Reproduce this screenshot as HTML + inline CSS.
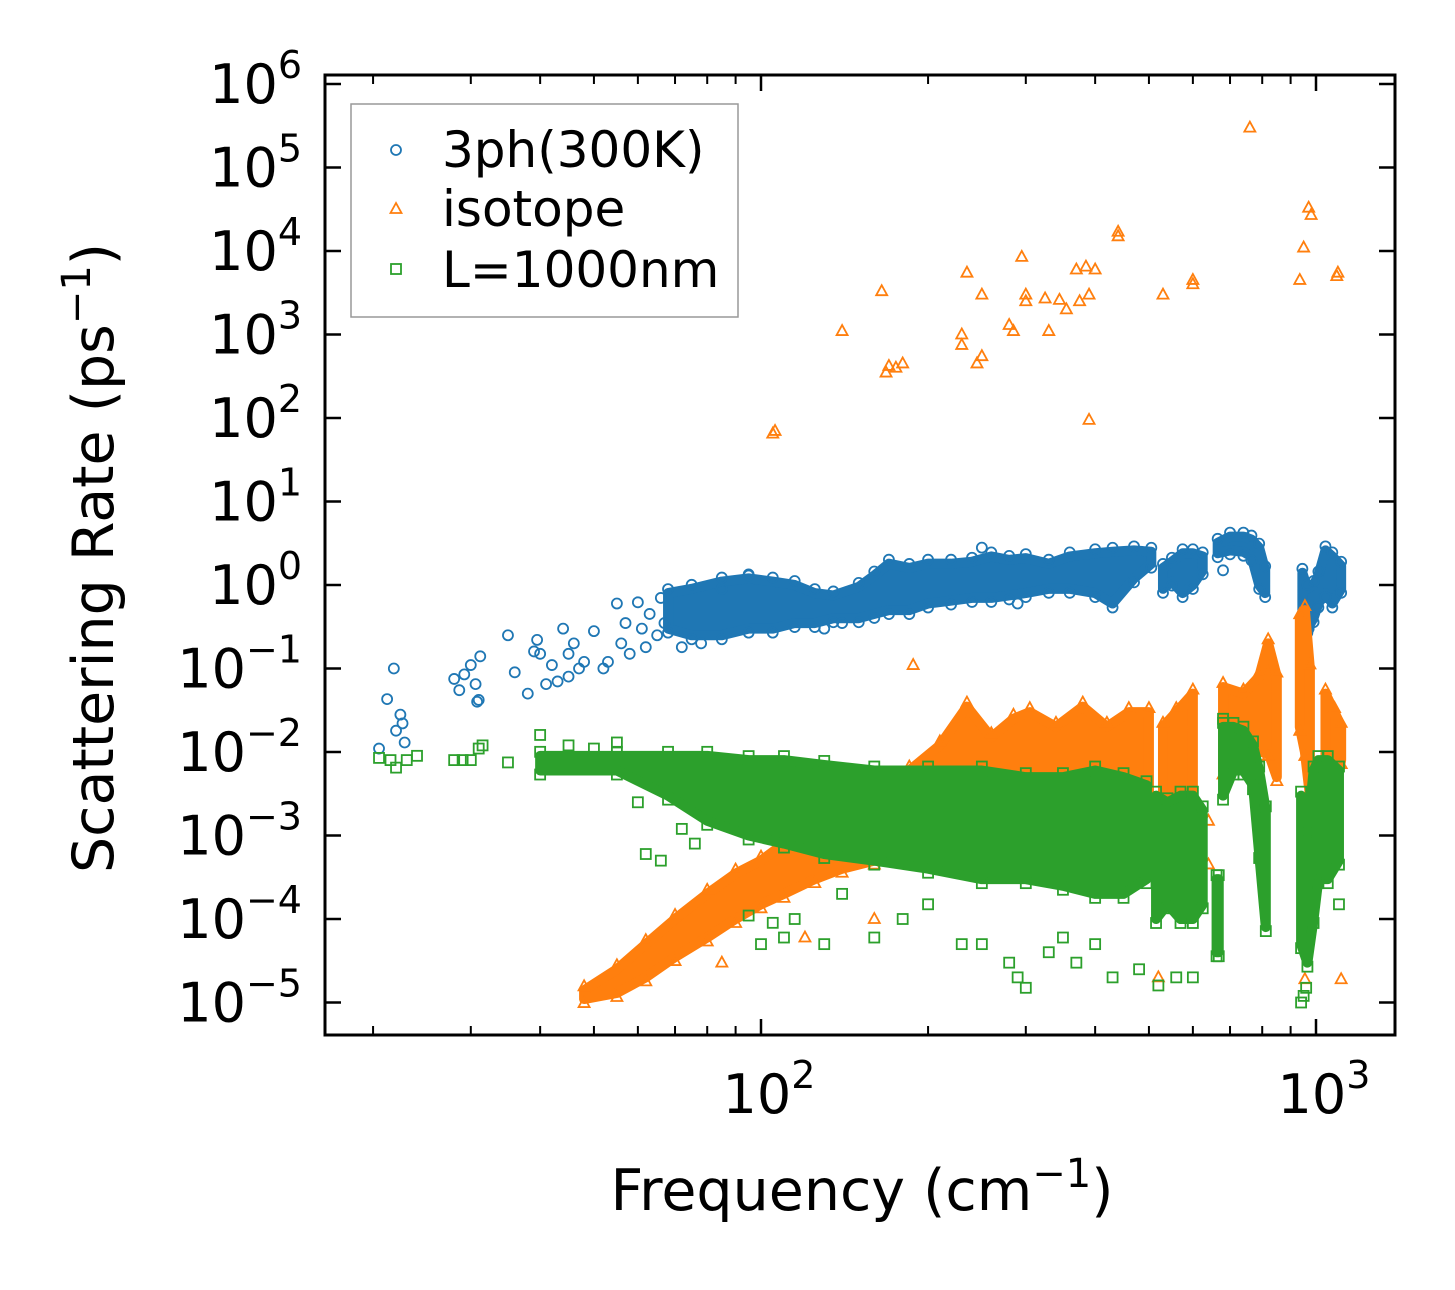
<!DOCTYPE html>
<html><head><meta charset="utf-8"><style>
body{margin:0;background:#fff;}
svg text{font-family:"DejaVu Sans","Liberation Sans",sans-serif;fill:#000;}
</style></head><body>
<svg id="chart" width="1455" height="1285" xmlns="http://www.w3.org/2000/svg">
<rect width="1455" height="1285" fill="#fff"/>
<defs><clipPath id="plotclip"><rect x="325" y="75" width="1070" height="960"/></clipPath></defs>
<g id="marks" clip-path="url(#plotclip)"></g>
<g id="axes"></g>
<g id="legend">
  <rect x="351" y="104" width="387" height="213" fill="#fff" stroke="#999" stroke-width="1.5"/>
  <circle cx="396" cy="150" r="5" fill="none" stroke="#1f77b4" stroke-width="1.8"/>
  <text x="442" y="167" font-size="50">3ph(300K)</text>
  <polygon points="396,203 390.5,213 401.5,213" fill="none" stroke="#ff7f0e" stroke-width="1.8"/>
  <text x="442" y="226" font-size="50">isotope</text>
  <rect x="391" y="264" width="10" height="10" fill="none" stroke="#2ca02c" stroke-width="1.8"/>
  <text x="442" y="287" font-size="50">L=1000nm</text>
</g>
<text x="862" y="1210" font-size="57" text-anchor="middle">Frequency (cm<tspan dy="-23" font-size="40">−1</tspan><tspan dy="23">)</tspan></text>
<text transform="translate(113,558) rotate(-90)" font-size="57" text-anchor="middle">Scattering Rate (ps<tspan dy="-23" font-size="40">−1</tspan><tspan dy="23">)</tspan></text>
</svg>
<script>
// ---- data ----
const yTickExps = [6,5,4,3,2,1,0,-1,-2,-3,-4,-5];
const xTickExps = [2,3];
const xMinorTicks = [20,30,40,50,60,70,80,90,200,300,400,500,600,700,800,900];
// dense bands: [freq, low, high]; null separates segments
const blueBands = [[68,0.3,0.8],[75,0.25,0.9],[85,0.25,1.1],[95,0.3,1.2],[105,0.3,1.1],[115,0.35,1.0],[125,0.35,0.8],[135,0.4,0.75],[150,0.4,0.95],[160,0.45,1.3],[170,0.5,1.8],[185,0.5,1.6],[200,0.6,1.8],[220,0.65,1.8],[240,0.7,1.9],[260,0.7,2.2],[280,0.75,2.0],[300,0.8,2.1],[330,0.9,1.8],[360,0.9,2.2],[400,0.8,2.4],[430,0.6,2.5],[470,1.2,2.6],[505,1.8,2.5],null,[530,0.9,1.6],[550,1.1,1.9],[575,0.8,2.4],[600,1.0,2.4],[625,1.5,2.2],null,[665,2.4,3.2],[700,2.6,3.8],[740,2.5,3.8],[765,2.2,3.5],[790,1.0,2.8],[810,0.8,1.5],null,[945,0.5,1.4],[965,0.3,0.9],[990,0.4,1.0],[1010,0.6,1.3],[1040,0.8,2.6],[1070,0.6,2.2],[1110,0.9,1.7]];
const orangeBands = [[48,1.1e-5,1.4e-5],[55,1.3e-5,2.5e-5],[62,2e-5,5e-5],[70,3.5e-5,1e-4],[80,6e-5,2e-4],[90,1e-4,3.5e-4],[100,1.5e-4,5e-4],[110,2e-4,8e-4],[125,3e-4,1.3e-3],[140,4e-4,2e-3],[160,5e-4,3e-3],[185,6e-4,6e-3],[210,6e-4,0.012],[235,6e-4,0.035],[260,6e-4,0.015],[285,6e-4,0.025],[305,6e-4,0.03],[340,6e-4,0.02],[380,6e-4,0.035],[420,5e-4,0.02],[460,5e-4,0.03],[500,5e-4,0.03],null,[530,3e-4,0.02],[560,3e-4,0.03],[600,3e-4,0.05],null,[680,0.006,0.06],[740,0.008,0.05],[790,0.01,0.08],[820,0.01,0.2],[850,0.005,0.08],null,[935,0.02,0.4],[955,0.01,0.5],[975,0.003,0.1],null,[1040,0.005,0.05],[1080,0.003,0.03],[1110,0.008,0.02]];
const greenBands = [[40,0.006,0.009],[55,0.006,0.009],[68,0.003,0.009],[80,0.0015,0.009],[95,0.001,0.008],[110,0.0008,0.008],[130,0.0006,0.007],[160,0.0005,0.006],[200,0.0004,0.006],[250,0.0003,0.006],[300,0.0003,0.005],[350,0.00025,0.005],[400,0.0002,0.006],[450,0.0002,0.005],[495,0.0003,0.004],null,[515,0.0001,0.003],[540,0.00015,0.0025],[570,0.0001,0.003],[600,0.0001,0.003],[625,0.00015,0.002],null,[662,0.00004,0.0003],[668,0.00004,0.0003],null,[680,0.003,0.02],[710,0.006,0.02],[740,0.006,0.018],[770,0.004,0.012],[790,0.0006,0.006],[812,0.00008,0.002],null,[940,0.00005,0.003],[965,0.00003,0.001],[990,0.0001,0.006],[1010,0.0003,0.008],[1050,0.0003,0.008],[1100,0.0005,0.006]];
// sparse points
const blueFreq = [20.5,21.2,21.8,22,22.4,22.8,22.6,28,28.6,29.2,30,30.6,30.8,31.2,31,35,36,38,39,39.5,40,41,42,43,44,45,45,46,47,48,50,52,53,55,56,57,58,60,61,62,63,65,66,67,72,78,85,95,130,140,290,250,680,970];
const blueRate = [0.011,0.043,0.1,0.018,0.028,0.013,0.022,0.075,0.055,0.085,0.11,0.065,0.04,0.14,0.042,0.25,0.09,0.05,0.16,0.22,0.15,0.065,0.11,0.07,0.3,0.15,0.08,0.2,0.1,0.12,0.28,0.1,0.12,0.6,0.2,0.35,0.15,0.62,0.3,0.18,0.45,0.25,0.7,0.35,0.18,0.2,0.9,1.3,0.3,0.35,0.6,2.8,1.5,0.3];
const orangeFreq = [105,106,140,165,168,170,175,180,188,230,230,235,245,250,250,280,285,295,300,300,325,330,345,355,370,375,385,390,390,400,440,440,530,600,600,760,935,950,970,980,1090,1095,640,640,1110,955,520,160,120,85];
const orangeRate = [65,70,1100,3300,350,420,400,450,0.11,1000,750,5500,450,550,3000,1300,1100,8500,3000,2500,2700,1100,2600,2000,6000,2500,6500,3000,95,6000,17000,15000,3000,4500,4000,300000,4500,11000,33000,27000,5000,5500,0.00045,0.0015,1.9e-5,1.9e-5,2e-5,1e-4,6e-5,3e-5];
const greenFreq = [20.5,21.5,22,23,24,28,29,30,31,31.5,35,40,45,50,55,60,62,66,72,76,95,100,105,110,115,130,140,160,180,200,230,250,280,290,300,330,350,370,400,430,480,520,560,600,680,940,950,960,1100];
const greenRate = [0.0085,0.008,0.0065,0.008,0.009,0.008,0.008,0.008,0.011,0.012,0.0075,0.016,0.012,0.011,0.013,0.0025,0.0006,0.0005,0.0012,0.0008,0.00011,0.00005,0.00009,0.00006,0.0001,0.00005,0.0002,0.00006,0.0001,0.00015,0.00005,0.00005,0.00003,0.00002,0.000015,0.00004,0.00006,0.00003,0.00005,0.00002,0.000025,0.000016,0.00002,0.00002,0.025,0.00001,0.000012,0.000015,0.00015];

// ---- scales ----
const X0=325,X1=1395,Y0=75,Y1=1035;
function xs(f){return 761+555*(Math.log10(f)-2);}
function ys(v){return 585-83.5*Math.log10(v);}
const NS='http://www.w3.org/2000/svg';
const marks=document.getElementById('marks');
const axes=document.getElementById('axes');
function mk(tag,attrs,parent){const e=document.createElementNS(NS,tag);for(const k in attrs)e.setAttribute(k,attrs[k]);parent.appendChild(e);return e;}

const colors={blue:'#1f77b4',orange:'#ff7f0e',green:'#2ca02c'};
function marker(type,x,y,col,parent){
  let e;
  if(type==='circle'){e=mk('circle',{cx:x,cy:y,r:5,fill:'none',stroke:col,'stroke-width':1.8},parent);}
  else if(type==='tri'){e=mk('polygon',{points:`${x},${y-6} ${x-5.5},${y+4} ${x+5.5},${y+4}`,fill:'none',stroke:col,'stroke-width':1.8},parent);}
  else {e=mk('rect',{x:x-5,y:y-5,width:10,height:10,fill:'none',stroke:col,'stroke-width':1.8},parent);}
  return e;
}
function drawBands(bands,col,type,name){
  const g=mk('g',{},marks);
  
  
  let seg=[];const segs=[];
  bands.forEach(b=>{if(b===null){if(seg.length)segs.push(seg);seg=[];}else seg.push(b);});
  if(seg.length)segs.push(seg);
  segs.forEach(s=>{
    let pts=[];
    if(s.length===1){const b=s[0];pts=[[xs(b[0])-5,ys(b[2])],[xs(b[0])+5,ys(b[2])],[xs(b[0])+5,ys(b[1])],[xs(b[0])-5,ys(b[1])]];}
    else{
      s.forEach(b=>pts.push([xs(b[0]),ys(b[2])]));
      for(let i=s.length-1;i>=0;i--)pts.push([xs(s[i][0]),ys(s[i][1])]);
    }
    const p=mk('polygon',{points:pts.map(q=>q.join(',')).join(' '),fill:col,stroke:col,'stroke-width':10,'stroke-linejoin':'round'},g);
    
    
    s.forEach(b=>{
      const m1=marker(type,xs(b[0]),ys(b[1])+4,col,g);
      
      
      const m2=marker(type,xs(b[0]),ys(b[2])-4,col,g);
      
      
    });
  });
  return g;
}
function drawPoints(fr,vals,col,type,name,g){
  fr.forEach((f,i)=>{
    const m=marker(type,xs(f),ys(vals[i]),col,g);
    
    
  });
}
const gb=drawBands(blueBands,colors.blue,'circle','3ph');
drawPoints(blueFreq,blueRate,colors.blue,'circle','3ph',gb);
const go=drawBands(orangeBands,colors.orange,'tri','isotope');
drawPoints(orangeFreq,orangeRate,colors.orange,'tri','isotope',go);
const gg=drawBands(greenBands,colors.green,'square','l1000nm');
drawPoints(greenFreq,greenRate,colors.green,'square','l1000nm',gg);

// ---- axes ----
const frame=mk('rect',{x:X0,y:Y0,width:X1-X0,height:Y1-Y0,fill:'none',stroke:'#000','stroke-width':3},axes);


yTickExps.forEach(e=>{
  const y=ys(Math.pow(10,e));
  mk('line',{x1:X0,x2:X0+16,y1:y,y2:y,stroke:'#000','stroke-width':2.5},axes);
  mk('line',{x1:X1,x2:X1-16,y1:y,y2:y,stroke:'#000','stroke-width':2.5},axes);
  const t=mk('text',{x:302,y:y+19,'font-size':54,'text-anchor':'end'},axes);
  
  
  t.innerHTML='10<tspan dy="-25" font-size="38">'+(e<0?'−'+(-e):e)+'</tspan>';
});
xTickExps.forEach(e=>{
  const x=xs(Math.pow(10,e));
  mk('line',{x1:x,x2:x,y1:Y1,y2:Y1-16,stroke:'#000','stroke-width':2.5},axes);
  mk('line',{x1:x,x2:x,y1:Y0,y2:Y0+16,stroke:'#000','stroke-width':2.5},axes);
  const t=mk('text',{x:x+8,y:1113,'font-size':54,'text-anchor':'middle'},axes);
  
  
  t.innerHTML='10<tspan dy="-25" font-size="38">'+e+'</tspan>';
});
xMinorTicks.forEach(f=>{
  const x=xs(f);
  mk('line',{x1:x,x2:x,y1:Y1,y2:Y1-9,stroke:'#000','stroke-width':2},axes);
  mk('line',{x1:x,x2:x,y1:Y0,y2:Y0+9,stroke:'#000','stroke-width':2},axes);
});
</script>
</body></html>
